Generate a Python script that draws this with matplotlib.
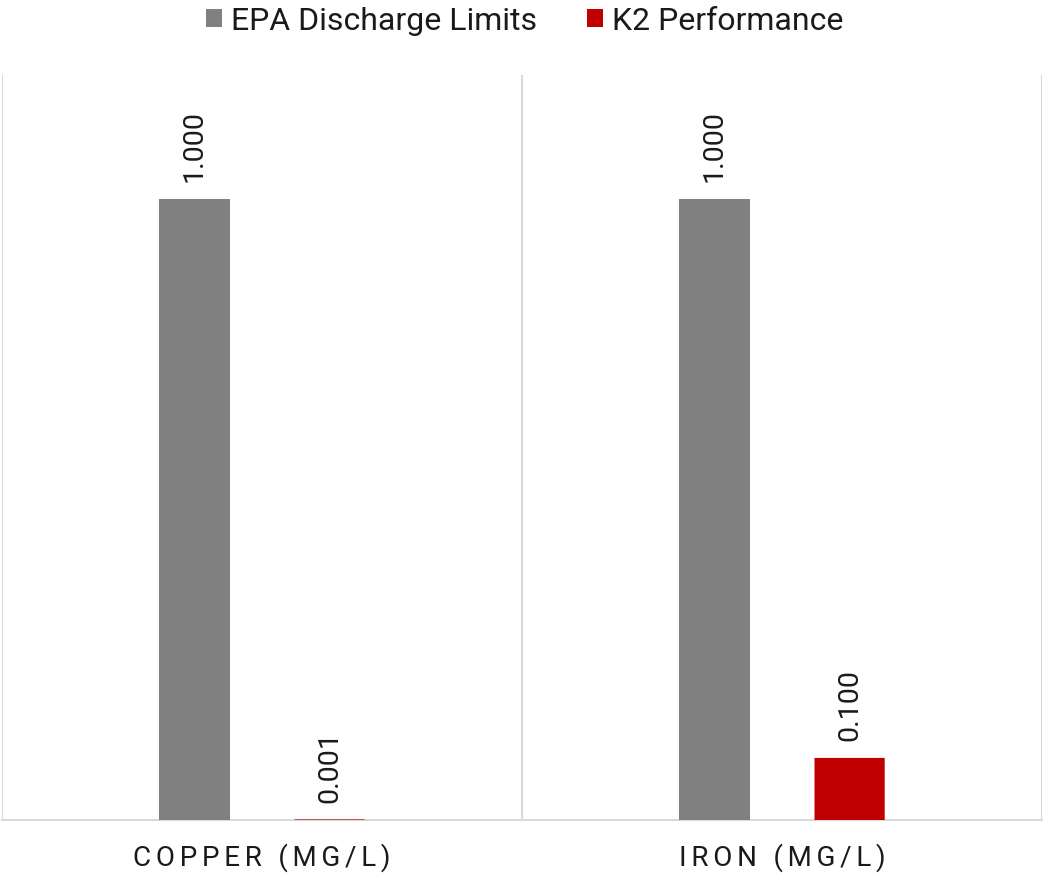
"""Recreate the EPA discharge limits vs K2 performance bar chart."""

import matplotlib

matplotlib.use("Agg")

import matplotlib.pyplot as plt
import numpy as np

categories = ["COPPER (MG/L)", "IRON (MG/L)"]
series_names = ["EPA Discharge Limits", "K2 Performance"]
epa_limits = [1.000, 1.000]
k2_perf = [0.001, 0.100]

GRAY = "#808080"
RED = "#c00000"
GRID = "#d9d9d9"
TEXT = "#1a1a1a"

plt.rcParams["font.family"] = ["Roboto", "DejaVu Sans"]


def spaced(label: str) -> str:
    # Excel-style letter spacing on the category labels
    return "\u2006".join(label)


fig = plt.figure(figsize=(10.43, 8.75), dpi=100)
ax = fig.add_axes([2 / 1043, 55 / 875, 1040 / 1043, 745 / 875])

x = np.arange(len(categories))
width = 0.135
offset = 0.13

bars_epa = ax.bar(x - offset, epa_limits, width, color=GRAY, label=series_names[0], zorder=3)
bars_k2 = ax.bar(x + offset, k2_perf, width, color=RED, label=series_names[1], zorder=3, snap=False)

for bars in (bars_epa, bars_k2):
    for b in bars:
        ax.annotate(
            f"{b.get_height():.3f}",
            xy=(b.get_x() + b.get_width() / 2, b.get_height()),
            xytext=(0, 12),
            textcoords="offset points",
            rotation=90,
            ha="center",
            va="bottom",
            fontsize=20.5,
            color=TEXT,
        )

ax.set_xlim(-0.5, len(categories) - 0.5)
ax.set_ylim(0, 1.2)
ax.set_yticks([])
ax.set_xticks(x)
ax.set_xticklabels([spaced(c) for c in categories], fontsize=20, color=TEXT)
ax.tick_params(axis="x", length=0, pad=17)

for sep in np.arange(-0.5, len(categories), 1.0):
    ax.axvline(sep, color=GRID, lw=1.5, zorder=1)

for side in ("top", "left", "right"):
    ax.spines[side].set_visible(False)
ax.spines["bottom"].set_color(GRID)
ax.spines["bottom"].set_linewidth(1.5)

fig.legend(
    loc="upper center",
    bbox_to_anchor=(0.503, 0.996),
    borderaxespad=0.0,
    borderpad=0.1,
    ncol=2,
    frameon=False,
    fontsize=23,
    handlelength=0.5,
    handleheight=0.5,
    handletextpad=0.3,
    columnspacing=1.55,
    labelcolor=TEXT,
)

fig.savefig("out.png", dpi=100)
